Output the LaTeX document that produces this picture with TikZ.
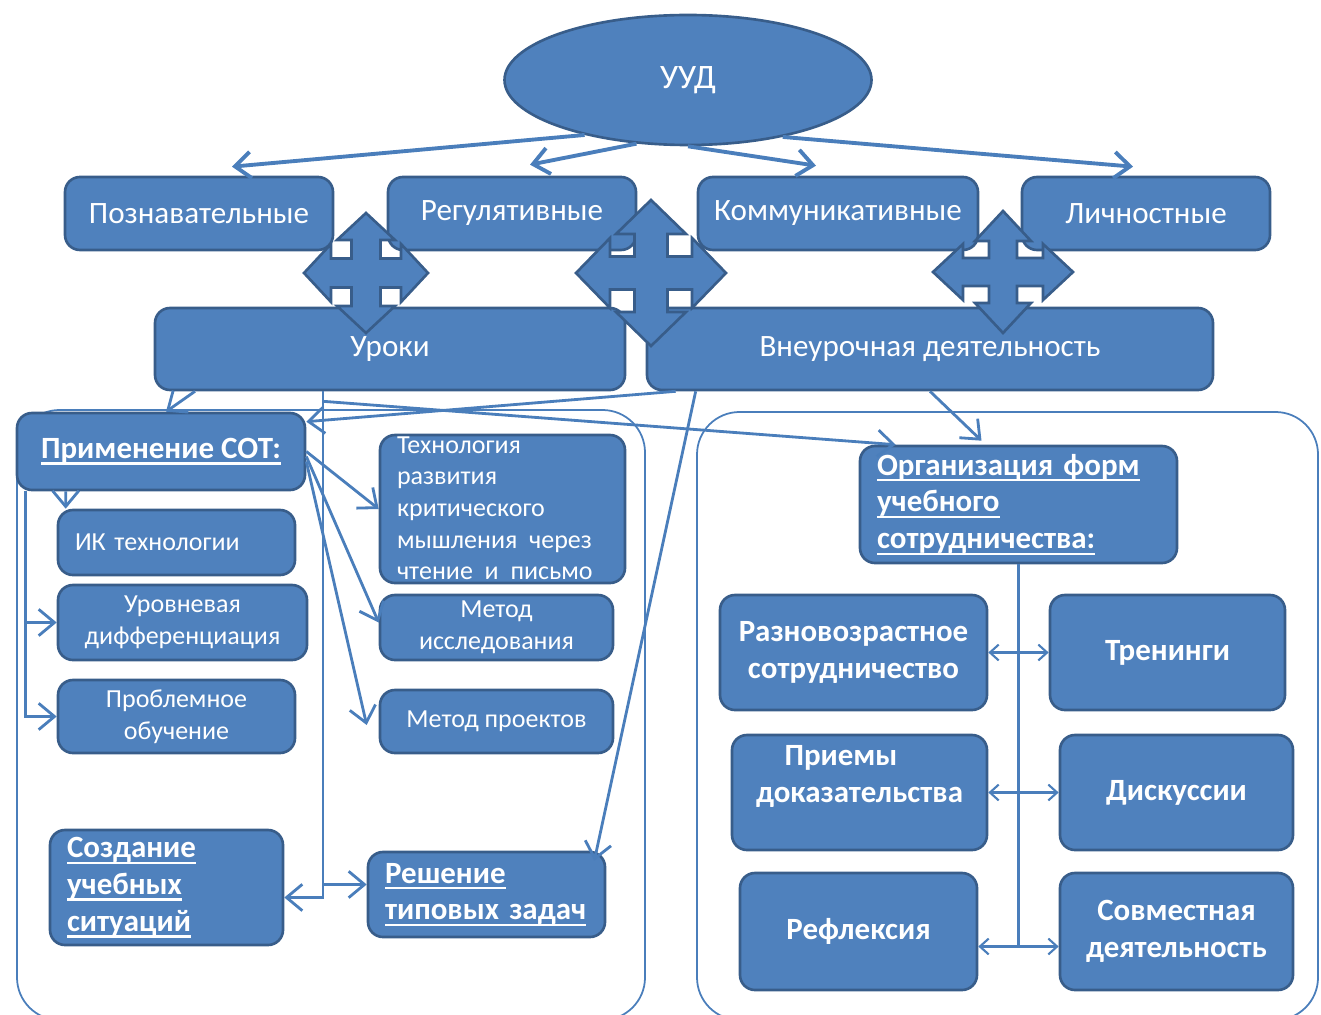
\documentclass[tikz,border=0pt]{standalone}
\usepackage{fontspec}
\setmainfont{Carlito}
\usepackage{tikz}
\usetikzlibrary{calc,positioning,arrows.meta,shapes.geometric}
\definecolor{boxfill}{HTML}{4F81BD}
\definecolor{boxline}{HTML}{385D8A}
\definecolor{arrline}{HTML}{4A7EBB}
\newcommand{\mainfnt}{\fontsize{17.7}{21}\selectfont}
\newcommand{\smallfnt}{\fontsize{14.8}{18}\selectfont}
\newcommand{\boldfnt}{\fontsize{17.6}{21}\selectfont\bfseries}
\newcommand{\uln}[1]{\leavevmode\setbox0=\hbox{#1}\rlap{\rule[-3.5pt]{\wd0}{1.3pt}}\box0}
\tikzset{
    >={Straight Barb[length=9pt,width=15pt]},
    box/.style={
        rectangle,
        rounded corners=0.3cm,
        draw=boxline, line width=1.5pt,
        fill=boxfill,
        text=white,
        font=\mainfnt,
        align=center,
        inner sep=2pt
    },
    smallbox/.style={box, font=\smallfnt},
    boldbox/.style={box, font=\boldfnt},
    oval/.style={
        ellipse,
        draw=boxline, line width=1.5pt,
        fill=boxfill,
        text=white,
        font=\fontsize{19.5}{23}\selectfont,
        minimum width=7.34cm,
        minimum height=2.6cm
    },
    quad/.style={draw=boxline, line width=1.5pt, fill=boxfill, line join=miter},
    lnk/.style={draw=arrline, line width=2.2pt},
    fan/.style={draw=arrline, line width=1.6pt},
    trunk/.style={draw=arrline, line width=1.2pt, >={Straight Barb[length=5pt,width=9pt]}},
    panel/.style={draw=arrline, line width=1pt, rounded corners=0.85cm},
}
\begin{document}
\begin{tikzpicture}
\useasboundingbox (0,0) rectangle (26.42,-20.30);
% two big frames
\draw[panel] (0.34,-8.20) rectangle (12.90,-20.40);
\draw[panel] (13.94,-8.24) rectangle (26.36,-20.40);

\node[oval] (uud) at (13.76,-1.60) {УУД};
\node[box, minimum width=5.36cm, minimum height=1.46cm] (pozn) at (3.98,-4.27) {Познавательные};
\node[box, minimum width=4.96cm, minimum height=1.46cm] (reg) at (10.24,-4.27) {Регулятивные};
\node[box, minimum width=5.60cm, minimum height=1.46cm] (komm) at (16.76,-4.27) {Коммуникативные};
\node[box, minimum width=4.96cm, minimum height=1.46cm] (lich) at (22.92,-4.27) {Личностные};
\node[box, minimum width=9.40cm, minimum height=1.64cm] (uroki) at (7.80,-6.98) {Уроки};
\node[box, minimum width=11.32cm, minimum height=1.64cm] (vneur) at (18.60,-6.98) {Внеурочная деятельность};

% left frame
\node[boldbox, minimum width=5.76cm, minimum height=1.54cm] (sot) at (3.22,-9.03) {\uln{Применение СОТ:}};
\node[smallbox, minimum width=4.74cm, minimum height=1.30cm, text width=4.06cm, align=left] (ikt) at (3.53,-10.85) {ИК технологии};
\node[smallbox, minimum width=4.98cm, minimum height=1.50cm] (urov) at (3.65,-12.45) {Уровневая\\дифференциация};
\node[smallbox, minimum width=4.74cm, minimum height=1.46cm] (probl) at (3.53,-14.33) {Проблемное\\обучение};
\node[smallbox, minimum width=4.90cm, minimum height=2.96cm] (tech) at (10.05,-10.18) {};
\begin{scope}
\clip[rounded corners=0.3cm] (tech.north west) rectangle (tech.south east);
\node[anchor=north west, align=left, text=white, font=\smallfnt, inner sep=0pt] (techtxt) at ([xshift=0.36cm,yshift=-0.05cm]tech.north west) {Технология\\развития\\критического\\мышления~~через\\чтение~~и~~письмо};
\end{scope}
\node[smallbox, minimum width=4.66cm, minimum height=1.30cm] (issl) at (9.93,-12.55) {Метод\\исследования};
\node[smallbox, minimum width=4.66cm, minimum height=1.26cm] (proekt) at (9.93,-14.43) {Метод проектов};
\node[boldbox, minimum width=4.66cm, minimum height=2.30cm, text width=3.98cm, align=left] (sozd) at (3.33,-17.75) {\uln{Создание}\\\uln{учебных}\\\uln{ситуаций}};
\node[boldbox, minimum width=4.74cm, minimum height=1.70cm, text width=4.06cm, align=left] (resh) at (9.73,-17.89) {\uln{Решение}\\\uln{типовых задач}};

% right frame
\node[boldbox, minimum width=6.34cm, minimum height=2.34cm, text width=5.66cm, align=left] (org) at (20.37,-10.09) {\uln{Организация~форм}\\\uln{учебного}\\\uln{сотрудничества:}};
\node[boldbox, minimum width=5.34cm, minimum height=2.30cm] (razn) at (17.07,-13.05) {Разновозрастное\\сотрудничество};
\node[boldbox, minimum width=4.70cm, minimum height=2.30cm] (tren) at (23.35,-13.05) {Тренинги};
\node[boldbox, minimum width=5.10cm, minimum height=2.30cm] (priem) at (17.19,-15.85) {Приемы\hspace*{1.2em}\\доказательства\\~};
\node[boldbox, minimum width=4.66cm, minimum height=2.30cm] (disk) at (23.53,-15.85) {Дискуссии};
\node[boldbox, minimum width=4.74cm, minimum height=2.34cm] (refl) at (17.17,-18.63) {Рефлексия};
\node[boldbox, minimum width=4.66cm, minimum height=2.34cm] (sovm) at (23.53,-18.63) {Совместная\\деятельность};

% arrows from the oval
\draw[lnk, ->] (uud.208) -- ([xshift=0.66cm,yshift=0.18cm]pozn.north);
\draw[lnk, ->] (uud.231) -- ([xshift=0.36cm,yshift=0.22cm]reg.north);
\draw[lnk, ->] (uud.270) -- ([xshift=-0.44cm,yshift=0.2cm]komm.north);
\draw[lnk, ->] (uud.329) -- ([xshift=-0.26cm,yshift=0.18cm]lich.north);

% from the lessons
\coordinate (ut) at ([xshift=-1.34cm]uroki.south);
\draw[fan, ->] ([xshift=-3.9cm]uroki.south) -- ([xshift=0.1cm]sot.north);
\draw[fan, ->] (ut) |- ([yshift=-0.2cm]sozd.east);
\draw[fan, ->] (ut) |- ([yshift=0.2cm]resh.west);
\draw[fan, ->] ([yshift=-0.2cm]ut) -- ([xshift=0.74cm]org.north west);

% from the out-of-class work
\draw[fan, ->] ([xshift=0.6cm]vneur.south west) -- ([yshift=-0.2cm]sot.north east);
\draw[fan, ->] ([xshift=1cm]vneur.south west) -- ([xshift=-0.24cm,yshift=-0.2cm]resh.north east);
\draw[fan, ->] (vneur.south) -- ([xshift=-0.74cm,yshift=0.08cm]org.north);

% technologies
\draw[fan, ->] ([xshift=1cm]sot.south west) -- ([xshift=0.18cm]ikt.north west);
\draw[fan, ->] ([xshift=0.2cm]sot.south west) |- (urov.west);
\draw[fan, ->] ([xshift=0.2cm]sot.south west) |- (probl.west);
\draw[fan, ->] (sot.east) -- (tech.west);
\draw[fan, ->] ([yshift=-0.1cm]sot.east) -- ([yshift=0.1cm]issl.west);
\draw[fan, ->] ([yshift=-0.2cm]sot.east) -- ([xshift=-0.24cm,yshift=-0.07cm]proekt.west);

% forms of cooperation
\draw[trunk, ->] (org.south) |- ([yshift=-0.3cm]sovm.west);
\draw[trunk, ->] (org.south) |- ([yshift=-0.3cm]refl.east);
\draw[trunk, <->] (razn.east) -- (tren.west);
\draw[trunk, <->] (priem.east) -- (disk.west);

% four-way arrows
\foreach \cx/\cy/\ax/\ay/\hl/\hw/\sw in {7.32/-5.46/1.24/1.20/0.54/0.58/0.29,
    13.02/-5.46/1.50/1.46/0.68/0.70/0.33, 20.06/-5.44/1.40/1.22/0.60/0.56/0.28}
{
    \draw[quad, shift={(\cx,\cy)}] (0,\ay) -- ({\hw},{\ay-\hl}) -- ({\sw},{\ay-\hl}) -- ({\sw},{\sw})
        -- ({\ax-\hl},{\sw}) -- ({\ax-\hl},{\hw}) -- ({\ax},0) -- ({\ax-\hl},{-\hw}) -- ({\ax-\hl},{-\sw})
        -- ({\sw},{-\sw}) -- ({\sw},{-\ay+\hl}) -- ({\hw},{-\ay+\hl}) -- (0,{-\ay}) -- ({-\hw},{-\ay+\hl})
        -- ({-\sw},{-\ay+\hl}) -- ({-\sw},{-\sw}) -- ({-\ax+\hl},{-\sw}) -- ({-\ax+\hl},{-\hw}) -- ({-\ax},0)
        -- ({-\ax+\hl},{\hw}) -- ({-\ax+\hl},{\sw}) -- ({-\sw},{\sw}) -- ({-\sw},{\ay-\hl}) -- ({-\hw},{\ay-\hl}) -- cycle;
}
\end{tikzpicture}
\end{document}
